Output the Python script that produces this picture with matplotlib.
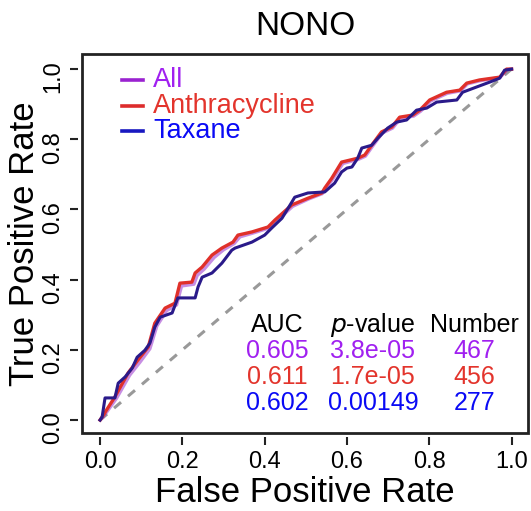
import numpy as np
import matplotlib
matplotlib.use("Agg")
import matplotlib.pyplot as plt
from matplotlib.patches import Rectangle

plt.rcParams["font.family"] = ["Liberation Sans", "DejaVu Sans"]

# ROC curves (fpr, tpr)
red_fpr = [0, 0.005, 0.036, 0.068, 0.092, 0.117, 0.133, 0.158, 0.182, 0.194, 0.223,
           0.231, 0.248, 0.272, 0.296, 0.323, 0.335, 0.369, 0.408, 0.425, 0.466,
           0.505, 0.539, 0.546, 0.563, 0.587, 0.626, 0.643, 0.660, 0.684, 0.709,
           0.728, 0.760, 0.777, 0.801, 0.842, 0.874, 0.891, 0.922, 0.971, 0.988, 1.0]
red_tpr = [0, 0.009, 0.066, 0.134, 0.171, 0.208, 0.276, 0.319, 0.333, 0.390, 0.393,
           0.419, 0.436, 0.470, 0.490, 0.507, 0.527, 0.536, 0.550, 0.570, 0.613,
           0.632, 0.647, 0.661, 0.689, 0.735, 0.746, 0.755, 0.783, 0.821, 0.835,
           0.863, 0.869, 0.883, 0.912, 0.934, 0.940, 0.960, 0.969, 0.977, 1.0, 1.0]

purple_fpr = [0, 0.007, 0.040, 0.072, 0.097, 0.121, 0.138, 0.162, 0.186, 0.198, 0.228,
              0.236, 0.253, 0.277, 0.300, 0.326, 0.340, 0.372, 0.410, 0.428, 0.468,
              0.507, 0.540, 0.548, 0.565, 0.590, 0.628, 0.645, 0.662, 0.686, 0.711,
              0.730, 0.762, 0.779, 0.803, 0.844, 0.876, 0.893, 0.924, 0.972, 0.989, 1.0]
purple_tpr = [0, 0.008, 0.062, 0.128, 0.165, 0.203, 0.268, 0.312, 0.328, 0.382, 0.387,
              0.412, 0.430, 0.463, 0.485, 0.503, 0.522, 0.533, 0.547, 0.566, 0.609,
              0.630, 0.645, 0.658, 0.686, 0.731, 0.743, 0.752, 0.780, 0.818, 0.832,
              0.860, 0.866, 0.880, 0.909, 0.931, 0.938, 0.958, 0.967, 0.976, 0.998, 1.0]

blue_fpr = [0, 0.005, 0.012, 0.036, 0.044, 0.061, 0.078, 0.090, 0.109, 0.121, 0.133,
            0.146, 0.175, 0.189, 0.231, 0.238, 0.248, 0.272, 0.296, 0.320, 0.328,
            0.369, 0.400, 0.417, 0.442, 0.466, 0.473, 0.505, 0.546, 0.570, 0.587,
            0.600, 0.612, 0.626, 0.636, 0.660, 0.675, 0.699, 0.721, 0.745, 0.769,
            0.794, 0.818, 0.867, 0.881, 0.915, 0.947, 0.971, 0.983, 1.0]
blue_tpr = [0, 0.009, 0.063, 0.063, 0.105, 0.123, 0.148, 0.179, 0.199, 0.219, 0.265,
            0.293, 0.305, 0.348, 0.348, 0.379, 0.407, 0.419, 0.447, 0.484, 0.490,
            0.507, 0.527, 0.547, 0.575, 0.621, 0.635, 0.647, 0.650, 0.675, 0.707,
            0.718, 0.721, 0.746, 0.775, 0.783, 0.803, 0.832, 0.849, 0.855, 0.883,
            0.889, 0.906, 0.912, 0.934, 0.949, 0.963, 0.974, 0.997, 1.0]

labels = ["All", "Anthracycline", "Taxane"]
text_colors = ["#A020F0", "#E3342C", "#0A0AF5"]
legend_line_colors = ["#9A22D0", "#DD2C2C", "#1818C0"]
auc = ["0.605", "0.611", "0.602"]
pvals = ["3.8e-05", "1.7e-05", "0.00149"]
numbers = ["467", "456", "277"]

fig = plt.figure(figsize=(5.31, 5.11), dpi=100)
ax = fig.add_axes([0.1544, 0.1526, 0.84, 0.7417])

ax.plot([0, 1], [0, 1], color="#999999", lw=2.2, ls=(0, (3, 3)), zorder=1)
ax.plot(purple_fpr, purple_tpr, color="#9932CC", alpha=0.55, lw=2.4, zorder=2)
ax.plot(red_fpr, red_tpr, color="#E0302A", lw=2.4, zorder=3)
ax.plot(blue_fpr, blue_tpr, color="#2A1A8A", lw=2.2, zorder=4)

ax.set_xlim(-0.044, 1.04)
ax.set_ylim(-0.037, 1.043)
ticks = [0.0, 0.2, 0.4, 0.6, 0.8, 1.0]
ax.tick_params(direction="out", length=6, width=1.5, labelsize=17, pad=4,
               colors="#222222", labelcolor="black")
ax.tick_params(axis="y", labelrotation=90)
ax.set_xticks(ticks)
ax.set_yticks(ticks)
ax.set_xticklabels(["%.1f" % t for t in ticks])
ax.set_yticklabels(["%.1f" % t for t in ticks], va="center")

for side in ["left", "bottom"]:
    ax.spines[side].set_position(("outward", 3))
    ax.spines[side].set_linewidth(0)
for side in ["top", "right"]:
    ax.spines[side].set_visible(False)
ax.add_patch(Rectangle((0, 0), 1, 1, transform=ax.transAxes, fill=False,
                       lw=2.0, edgecolor="#222222", clip_on=False, zorder=5))

ax.set_xlabel("False Positive Rate", fontsize=25)
ax.set_ylabel("True Positive Rate", fontsize=25)
ax.xaxis.set_label_coords(0.5, -0.156)
ax.yaxis.set_label_coords(-0.128, 0.5)
ax.xaxis.label.set_va("center")
ax.yaxis.label.set_va("center")
ax.set_title("NONO", fontsize=24, pad=14)

# legend drawn by hand, R style
leg_y = [0.969, 0.895, 0.823]
for i in range(3):
    ax.plot([0.053, 0.104], [leg_y[i], leg_y[i]], color=legend_line_colors[i], lw=2.6)
    ax.text(0.129, leg_y[i], labels[i], color=text_colors[i], fontsize=19.5,
            va="center", ha="left")

# stats table
col_x = [0.43, 0.663, 0.91]
head_y = 0.271
row_y = [0.197, 0.1225, 0.048]
ax.text(col_x[0], head_y, "AUC", fontsize=18, ha="center", va="center")
ax.text(col_x[1], head_y, "$\\it{p}$-value", fontsize=18, ha="center", va="center")
ax.text(col_x[2], head_y, "Number", fontsize=18, ha="center", va="center")
for i in range(3):
    ax.text(col_x[0], row_y[i], auc[i], color=text_colors[i], fontsize=18,
            ha="center", va="center")
    ax.text(col_x[1], row_y[i], pvals[i], color=text_colors[i], fontsize=18,
            ha="center", va="center")
    ax.text(col_x[2], row_y[i], numbers[i], color=text_colors[i], fontsize=18,
            ha="center", va="center")

fig.savefig("out.png", dpi=100)
